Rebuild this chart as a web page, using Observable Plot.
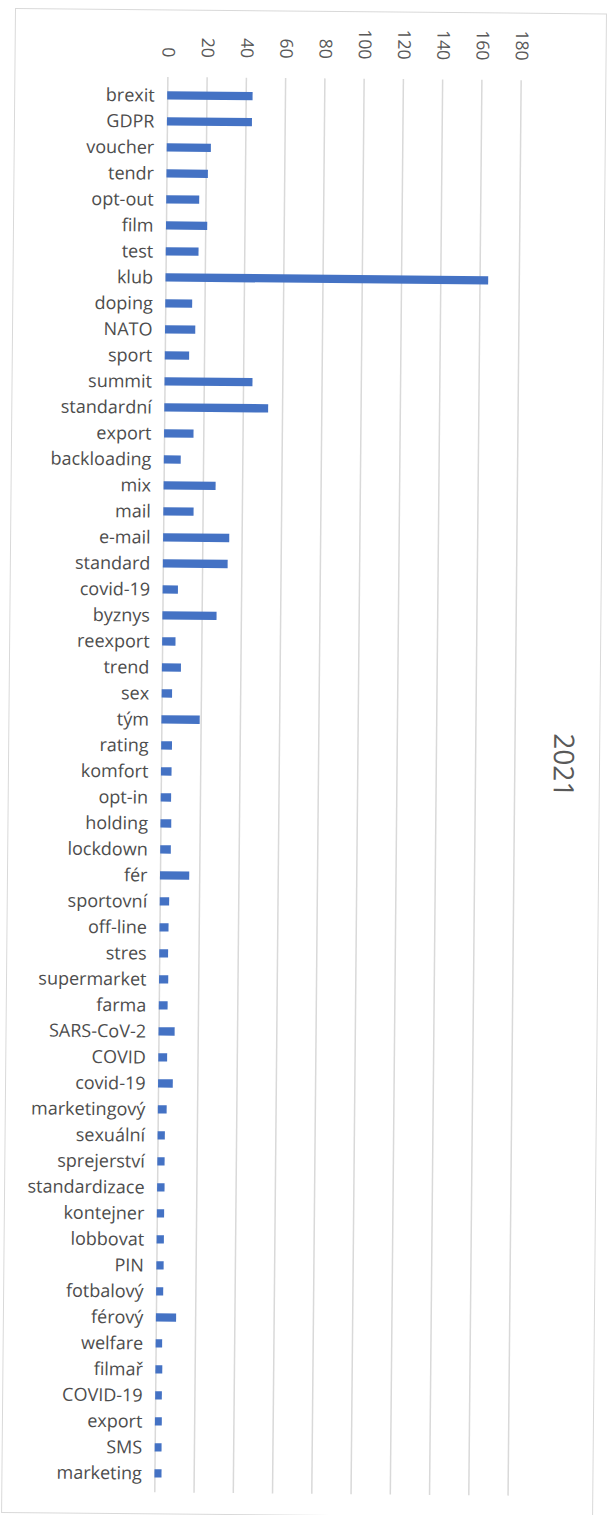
<!DOCTYPE html>
<html>
<head>
<meta charset="utf-8">
<script src="https://cdn.jsdelivr.net/npm/d3@7"></script>
<script src="https://cdn.jsdelivr.net/npm/@observablehq/plot@0.6"></script>
<style>
html, body { margin: 0; padding: 0; overflow: hidden; background: #fff; width: 610px; height: 1515px; }
#wrap { position: absolute; left: 15px; top: 8px; width: 592px; height: 1505px; transform: rotate(0.53deg); transform-origin: 0 0; }
#frame { position: absolute; left: 0; top: 0; width: 592px; height: 1505px; box-sizing: border-box; border: 1.5px solid #d9d9d9; }
#wrap svg { position: absolute; left: 0; top: 0; }
</style>
</head>
<body>
<div id="wrap"><div id="frame"></div></div>
<script>
const labels = ["brexit","GDPR","voucher","tendr","opt-out","film","test","klub","doping","NATO","sport","summit","standardní","export","backloading","mix","mail","e-mail","standard","covid-19","byznys","reexport","trend","sex","tým","rating","komfort","opt-in","holding","lockdown","fér","sportovní","off-line","stres","supermarket","farma","SARS-CoV-2","COVID","covid-19","marketingový","sexuální","sprejerství","standardizace","kontejner","lobbovat","PIN","fotbalový","férový","welfare","filmař","COVID-19","export","SMS","marketing"];
const values = [43.5,43.3,22.5,21.1,16.8,21.0,16.7,164.4,13.7,15.4,12.4,44.8,52.9,15.0,8.6,26.5,15.4,33.7,33.0,7.8,27.6,6.8,9.7,5.3,19.5,5.5,5.4,5.3,5.5,5.4,14.9,4.8,4.6,4.5,4.7,4.5,8.2,4.5,7.5,4.5,3.7,3.7,3.8,3.7,3.7,3.7,3.6,10.3,3.3,3.5,3.4,3.5,3.5,3.6];
const xTicks = [0,20,40,60,80,100,120,140,160,180];
const title = "2021";

const idx = d3.range(labels.length);

const chart = Plot.plot({
  width: 592,
  height: 1505,
  marginLeft: 153,
  marginRight: 85.7,
  marginTop: 67.5,
  marginBottom: 22,
  style: { fontFamily: "'Open Sans', sans-serif", background: "transparent", overflow: "visible", color: "#595959" },
  x: { domain: [0, 180], axis: null },
  y: { domain: idx, padding: 0, axis: null },
  marks: [
    Plot.gridX(xTicks, { stroke: "#d9d9d9", strokeOpacity: 1, strokeWidth: 1.5 }),
    Plot.barX(idx, { x: i => values[i], y: i => i, fill: "#4472C4", insetTop: 8.85, insetBottom: 8.85 }),
    Plot.axisX(xTicks, { anchor: "top", tickSize: 0, tickRotate: 90, tickPadding: 20, fontSize: 17.5, color: "#595959", tickFormat: d => String(d) }),
    Plot.axisY(idx, { anchor: "left", tickSize: 0, tickPadding: 13, fontSize: 18, color: "#4d4d4d", tickFormat: i => labels[i] }),
    Plot.text([title], { text: d => d, frameAnchor: "right", rotate: 90, dx: 48, dy: -23.5, fontSize: 28, fill: "#595959", textAnchor: "middle", lineAnchor: "middle" })
  ]
});
document.getElementById("wrap").appendChild(chart);
</script>
</body>
</html>
